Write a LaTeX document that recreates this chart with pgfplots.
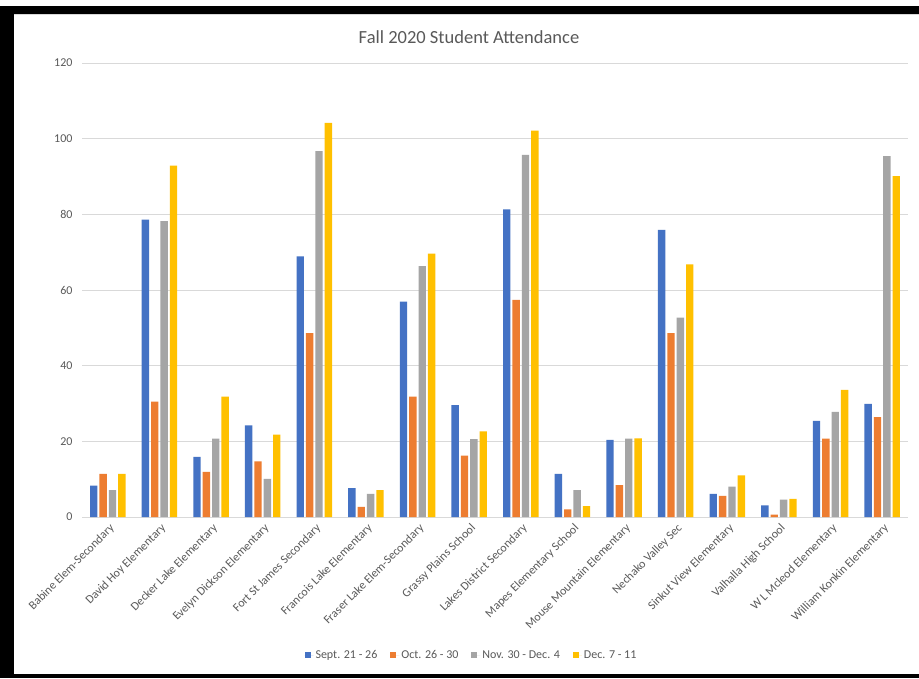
\documentclass[border=0pt]{standalone}
\usepackage{pgfplots}
\pgfplotsset{compat=1.18}
\usepackage{pgfplotstable}
\usepackage{fontspec}
\setmainfont{Carlito}
\definecolor{cblue}{HTML}{4472C4}
\definecolor{corange}{HTML}{ED7D31}
\definecolor{cgray}{HTML}{A5A5A5}
\definecolor{cyellow}{HTML}{FFC000}
\definecolor{gridc}{HTML}{D9D9D9}
\definecolor{txt}{HTML}{595959}
\pgfplotstableread{
idx A B C D
0 8.3 11.4 7.1 11.4
1 78.6 30.5 78.2 92.9
2 15.9 11.9 20.7 31.8
3 24.2 14.7 10.1 21.8
4 68.9 48.6 96.7 104.2
5 7.6 2.7 6.1 7.1
6 56.9 31.8 66.3 69.6
7 29.6 16.2 20.6 22.6
8 81.3 57.4 95.7 102.1
9 11.4 2.0 7.1 2.9
10 20.4 8.4 20.7 20.8
11 75.9 48.6 52.7 66.8
12 6.1 5.6 8.0 11.0
13 3.1 0.6 4.6 4.8
14 25.4 20.7 27.8 33.6
15 29.9 26.4 95.4 90.1
}\data
\begin{document}
\begin{tikzpicture}
\fill[white] (0pt,0pt) rectangle (919pt,678pt);
\path[use as bounding box] (0pt,0pt) rectangle (919pt,678pt);
\fill[black] (0pt,664pt) rectangle (919pt,672pt);
\fill[black] (0pt,0pt) rectangle (14pt,672pt);
\fill[black] (0pt,0pt) rectangle (919pt,4pt);
\draw[gridc,line width=0.8pt] (14pt,663.5pt) -- (919pt,663.5pt);
\node[text=txt,font=\fontsize{18.5}{22}\selectfont] at (469pt,641pt) {Fall 2020 Student Attendance};
\begin{axis}[
  at={(82pt,161pt)}, anchor=south west,
  scale only axis, width=826pt, height=454pt,
  ybar=1.95pt, bar width=7.4pt,
  xmin=-0.5, xmax=15.5, ymin=0, ymax=120,
  ytick={0,20,...,120},
  xtick=data,
  xticklabels={Babine Elem-Secondary,David Hoy Elementary,Decker Lake Elementary,Evelyn Dickson Elementary,Fort St James Secondary,Francois Lake Elementary,Fraser Lake Elem-Secondary,Grassy Plains School,Lakes District Secondary,Mapes Elementary School,Mouse Mountain Elementary,Nechako Valley Sec,Sinkut View Elementary,Valhalla High School,W L Mcleod Elementary,William Konkin Elementary},
  axis line style={draw=none},
  major tick length=0pt,
  ymajorgrids, grid style={gridc,line width=0.9pt},
  /pgf/number format/assume math mode=true,
  ticklabel style={text=txt,font=\fontsize{12}{14}\selectfont},
  yticklabel style={xshift=-6pt},
  xticklabel style={rotate=45,anchor=east,xshift=0pt,yshift=-10pt},
  legend columns=4,
  legend style={draw=none,fill=none,at={(0.4715,-0.304)},anchor=center,
    font=\fontsize{12}{14}\selectfont,text=txt,
    /tikz/every even column/.append style={column sep=11pt}},
  legend image code/.code={\fill[#1] (0pt,-3pt) rectangle (6pt,3pt);\path (0pt,0pt) -- (9pt,0pt);},
]
\addplot[fill=cblue,draw=none] table[x=idx,y=A]{\data};
\addplot[fill=corange,draw=none] table[x=idx,y=B]{\data};
\addplot[fill=cgray,draw=none] table[x=idx,y=C]{\data};
\addplot[fill=cyellow,draw=none] table[x=idx,y=D]{\data};
\legend{Sept. 21 - 26,Oct. 26 - 30,Nov. 30 - Dec. 4,Dec. 7 - 11}
\end{axis}
\end{tikzpicture}
\end{document}
